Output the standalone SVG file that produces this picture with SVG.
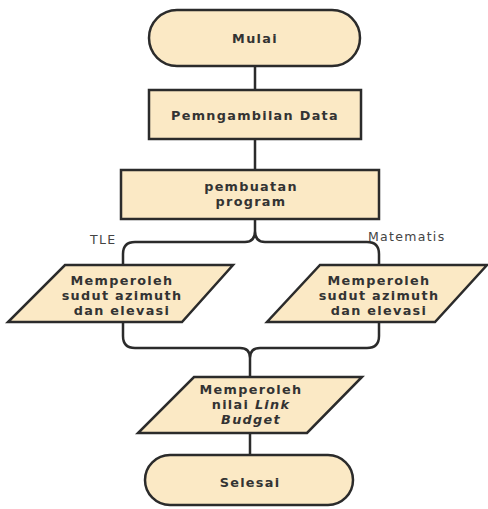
<svg xmlns="http://www.w3.org/2000/svg" width="488" height="509" viewBox="0 0 488 509">
<style>
.s{fill:#fbe9c5;stroke:#2b2b2b;stroke-width:2.5}
.t{font-family:"DejaVu Sans",Verdana,sans-serif;font-weight:bold;font-size:12.8px;letter-spacing:1.3px;fill:#333;text-anchor:middle}
.l{font-family:"DejaVu Sans",Verdana,sans-serif;font-size:12.5px;letter-spacing:1.3px;fill:#444}
.c{fill:none;stroke:#2b2b2b;stroke-width:2.5}
</style>
<rect width="488" height="509" fill="#fff"/>
<g id="connectors">
<path class="c" d="M255 66V90M255 139V170"/>
<path class="c" d="M255 219V231Q255 242 245 242H135Q123 242 123 254V265M255 231Q255 242 265 242H367Q379 242 379 254V265"/>
<path class="c" d="M123 322V336Q123 348 135 348H240Q250 348 250 358M379 322V336Q379 348 367 348H260Q250 348 250 358V377"/>
<path class="c" d="M250 433V455"/>
<text class="l" x="90" y="244">TLE</text>
<text class="l" x="368" y="241">Matematis</text>
</g>
<g id="mulai">
<rect class="s" x="149" y="10" width="211" height="56" rx="28"/>
<text class="t" x="255" y="43">Mulai</text>
</g>
<g id="pengambilan">
<rect class="s" x="149" y="90" width="212" height="49"/>
<text class="t" x="255" y="120">Pemngambilan Data</text>
</g>
<g id="pembuatan">
<rect class="s" x="121" y="170" width="258" height="49"/>
<text class="t" x="251" y="191">pembuatan</text>
<text class="t" x="251" y="206">program</text>
</g>
<g id="tle">
<polygon class="s" points="65,265 233,265 182,322 8,322"/>
<text class="t" x="122" y="285">Memperoleh</text>
<text class="t" x="122" y="300">sudut azimuth</text>
<text class="t" x="122" y="315">dan elevasi</text>
</g>
<g id="matematis">
<polygon class="s" points="320,265 487,265 435,322 267,322"/>
<text class="t" x="379" y="285">Memperoleh</text>
<text class="t" x="379" y="300">sudut azimuth</text>
<text class="t" x="379" y="315">dan elevasi</text>
</g>
<g id="linkbudget">
<polygon class="s" points="194,377 362,377 307,433 138,433"/>
<text class="t" x="251" y="394">Memperoleh</text>
<text class="t" x="251" y="409">nilai <tspan font-style="italic">Link</tspan></text>
<text class="t" x="251" y="424" font-style="italic">Budget</text>
</g>
<g id="selesai">
<rect class="s" x="145" y="455" width="208" height="50" rx="25"/>
<text class="t" x="250" y="487">Selesai</text>
</g>
</svg>
